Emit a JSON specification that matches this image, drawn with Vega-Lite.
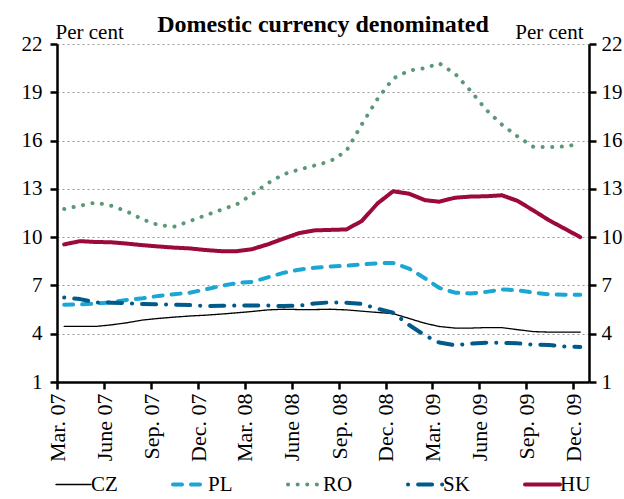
{
  "$schema": "https://vega.github.io/schema/vega-lite/v6.json",
  "width": 532,
  "height": 338,
  "autosize": {"type": "none"},
  "padding": {"left": 57, "top": 44, "right": 35, "bottom": 117},
  "background": "white",
  "title": {
    "text": "Domestic currency denominated",
    "font": "Liberation Serif",
    "fontSize": 24,
    "fontWeight": "bold",
    "color": "black",
    "anchor": "middle",
    "frame": "group",
    "baseline": "alphabetic",
    "dy": 39
  },
  "config": {
    "view": {"stroke": null},
    "axis": {
      "labelFont": "Liberation Serif",
      "labelFontSize": 21,
      "labelColor": "black",
      "titleFont": "Liberation Serif",
      "titleFontSize": 21,
      "titleFontWeight": "normal",
      "titleColor": "black",
      "domainColor": "black",
      "domainWidth": 2.5,
      "tickColor": "black",
      "tickWidth": 2.5,
      "tickSize": 7
    },
    "legend": {
      "labelFont": "Liberation Serif",
      "labelFontSize": 21,
      "labelColor": "black"
    }
  },
  "data": {
    "values": [
      {"date": "2007-03-15", "CZ": 4.45, "PL": 5.8, "RO": 11.75, "SK": 6.25, "HU": 9.55},
      {"date": "2007-04-15", "CZ": 4.45, "PL": 5.82, "RO": 11.95, "SK": 6.15, "HU": 9.75},
      {"date": "2007-05-15", "CZ": 4.45, "PL": 5.87, "RO": 12.15, "SK": 5.95, "HU": 9.7},
      {"date": "2007-06-15", "CZ": 4.55, "PL": 5.95, "RO": 11.95, "SK": 5.93, "HU": 9.68},
      {"date": "2007-07-15", "CZ": 4.68, "PL": 6.1, "RO": 11.6, "SK": 5.9, "HU": 9.6},
      {"date": "2007-08-15", "CZ": 4.85, "PL": 6.2, "RO": 11.1, "SK": 5.85, "HU": 9.5},
      {"date": "2007-09-15", "CZ": 4.95, "PL": 6.35, "RO": 10.75, "SK": 5.82, "HU": 9.42},
      {"date": "2007-10-15", "CZ": 5.03, "PL": 6.45, "RO": 10.65, "SK": 5.8, "HU": 9.35},
      {"date": "2007-11-15", "CZ": 5.1, "PL": 6.55, "RO": 11.0, "SK": 5.78, "HU": 9.3},
      {"date": "2007-12-15", "CZ": 5.15, "PL": 6.75, "RO": 11.35, "SK": 5.72, "HU": 9.2},
      {"date": "2008-01-15", "CZ": 5.22, "PL": 6.97, "RO": 11.7, "SK": 5.73, "HU": 9.13},
      {"date": "2008-02-15", "CZ": 5.3, "PL": 7.15, "RO": 12.05, "SK": 5.75, "HU": 9.13},
      {"date": "2008-03-15", "CZ": 5.38, "PL": 7.22, "RO": 12.65, "SK": 5.76, "HU": 9.25},
      {"date": "2008-04-15", "CZ": 5.48, "PL": 7.5, "RO": 13.35, "SK": 5.75, "HU": 9.55},
      {"date": "2008-05-15", "CZ": 5.52, "PL": 7.78, "RO": 13.9, "SK": 5.72, "HU": 9.9},
      {"date": "2008-06-15", "CZ": 5.5, "PL": 7.98, "RO": 14.2, "SK": 5.74, "HU": 10.25},
      {"date": "2008-07-15", "CZ": 5.5, "PL": 8.1, "RO": 14.45, "SK": 5.88, "HU": 10.42},
      {"date": "2008-08-15", "CZ": 5.52, "PL": 8.18, "RO": 14.72, "SK": 5.95, "HU": 10.45},
      {"date": "2008-09-15", "CZ": 5.48, "PL": 8.22, "RO": 15.35, "SK": 5.92, "HU": 10.48},
      {"date": "2008-10-15", "CZ": 5.4, "PL": 8.3, "RO": 17.0, "SK": 5.85, "HU": 11.0},
      {"date": "2008-11-15", "CZ": 5.32, "PL": 8.38, "RO": 18.6, "SK": 5.55, "HU": 12.1},
      {"date": "2008-12-15", "CZ": 5.25, "PL": 8.4, "RO": 19.85, "SK": 5.3, "HU": 12.85},
      {"date": "2009-01-15", "CZ": 4.95, "PL": 8.05, "RO": 20.35, "SK": 4.55, "HU": 12.7},
      {"date": "2009-02-15", "CZ": 4.65, "PL": 7.45, "RO": 20.5, "SK": 3.9, "HU": 12.3},
      {"date": "2009-03-15", "CZ": 4.45, "PL": 6.85, "RO": 20.8, "SK": 3.45, "HU": 12.2},
      {"date": "2009-04-15", "CZ": 4.35, "PL": 6.55, "RO": 20.15, "SK": 3.28, "HU": 12.45},
      {"date": "2009-05-15", "CZ": 4.35, "PL": 6.5, "RO": 19.1, "SK": 3.38, "HU": 12.52},
      {"date": "2009-06-15", "CZ": 4.38, "PL": 6.6, "RO": 17.9, "SK": 3.44, "HU": 12.54},
      {"date": "2009-07-15", "CZ": 4.38, "PL": 6.75, "RO": 17.0, "SK": 3.44, "HU": 12.6},
      {"date": "2009-08-15", "CZ": 4.25, "PL": 6.7, "RO": 16.25, "SK": 3.4, "HU": 12.25},
      {"date": "2009-09-15", "CZ": 4.13, "PL": 6.55, "RO": 15.6, "SK": 3.32, "HU": 11.65},
      {"date": "2009-10-15", "CZ": 4.1, "PL": 6.45, "RO": 15.6, "SK": 3.3, "HU": 11.05},
      {"date": "2009-11-15", "CZ": 4.1, "PL": 6.42, "RO": 15.63, "SK": 3.2, "HU": 10.52},
      {"date": "2009-12-15", "CZ": 4.1, "PL": 6.42, "RO": 15.8, "SK": 3.18, "HU": 10.0}
    ]
  },
  "transform": [
    {"fold": ["CZ", "PL", "RO", "SK", "HU"], "as": ["country", "value"]}
  ],
  "encoding": {
    "x": {
      "field": "date",
      "type": "temporal",
      "scale": {
        "type": "utc",
        "domain": [
          {"year": 2007, "month": 3, "date": 1, "utc": true},
          {"year": 2010, "month": 1, "date": 1, "utc": true}
        ]
      },
      "axis": {
        "title": null,
        "grid": false,
        "labelAngle": -90,
        "labelPadding": 4,
        "labelFontSize": 22,
        "values": [
          {"year": 2007, "month": 3, "date": 1, "utc": true},
          {"year": 2007, "month": 6, "date": 1, "utc": true},
          {"year": 2007, "month": 9, "date": 1, "utc": true},
          {"year": 2007, "month": 12, "date": 1, "utc": true},
          {"year": 2008, "month": 3, "date": 1, "utc": true},
          {"year": 2008, "month": 6, "date": 1, "utc": true},
          {"year": 2008, "month": 9, "date": 1, "utc": true},
          {"year": 2008, "month": 12, "date": 1, "utc": true},
          {"year": 2009, "month": 3, "date": 1, "utc": true},
          {"year": 2009, "month": 6, "date": 1, "utc": true},
          {"year": 2009, "month": 9, "date": 1, "utc": true},
          {"year": 2009, "month": 12, "date": 1, "utc": true}
        ],
        "labelExpr": "(['Jan.','Feb.','Mar.','Apr.','May','June','July','Aug.','Sep.','Oct.','Nov.','Dec.'])[utcmonth(datum.value)] + ' ' + utcFormat(datum.value, '%y')"
      }
    },
    "y": {
      "field": "value",
      "type": "quantitative",
      "scale": {"domain": [1, 22], "nice": false, "zero": false}
    }
  },
  "layer": [
    {
      "mark": {"type": "line", "strokeCap": "round", "strokeJoin": "round"},
      "encoding": {
        "y": {
          "field": "value",
          "type": "quantitative",
          "axis": {
            "orient": "left",
            "values": [1, 4, 7, 10, 13, 16, 19, 22],
            "grid": true,
            "gridColor": "#9a9a9a",
            "gridDash": [2, 3],
            "gridWidth": 1,
            "labelPadding": 8,
            "title": "Per cent",
            "titleAngle": 0,
            "titleAlign": "left",
            "titleBaseline": "alphabetic",
            "titleX": -2,
            "titleY": -6
          }
        },
        "color": {
          "field": "country",
          "type": "nominal",
          "scale": {
            "domain": ["CZ", "PL", "RO", "SK", "HU"],
            "range": ["#000000", "#1ba6d4", "#5b9878", "#005a8a", "#9c0a3c"]
          },
          "legend": {
            "title": null,
            "orient": "none",
            "legendX": 6,
            "legendY": 430,
            "direction": "horizontal",
            "columnPadding": 47,
            "gridAlign": "none",
            "symbolType": "stroke",
            "symbolSize": 1225,
            "labelOffset": 7,
            "encode": {
              "symbols": {
                "update": {
                  "strokeCap": {"value": "round"},
                  "strokeWidth": {"signal": "datum.value === 'CZ' ? 1.3 : 4"}
                }
              }
            }
          }
        },
        "strokeDash": {
          "field": "country",
          "type": "nominal",
          "scale": {
            "domain": ["CZ", "PL", "RO", "SK", "HU"],
            "range": [[1, 0], [9, 9], [0.1, 9.5], [0.1, 10, 14, 10], [1, 0]]
          },
          "legend": null
        },
        "strokeWidth": {
          "condition": {"test": "datum.country === 'CZ'", "value": 1.3},
          "value": 4
        }
      }
    },
    {
      "mark": {"type": "line", "opacity": 0},
      "encoding": {
        "detail": {"field": "country", "type": "nominal"},
        "y": {
          "field": "value",
          "type": "quantitative",
          "axis": {
            "orient": "right",
            "values": [1, 4, 7, 10, 13, 16, 19, 22],
            "grid": false,
            "labelPadding": 5,
            "title": "Per cent",
            "titleAngle": 0,
            "titleAlign": "right",
            "titleBaseline": "alphabetic",
            "titleX": -6,
            "titleY": -6
          }
        }
      }
    }
  ],
  "resolve": {"axis": {"y": "independent"}}
}
